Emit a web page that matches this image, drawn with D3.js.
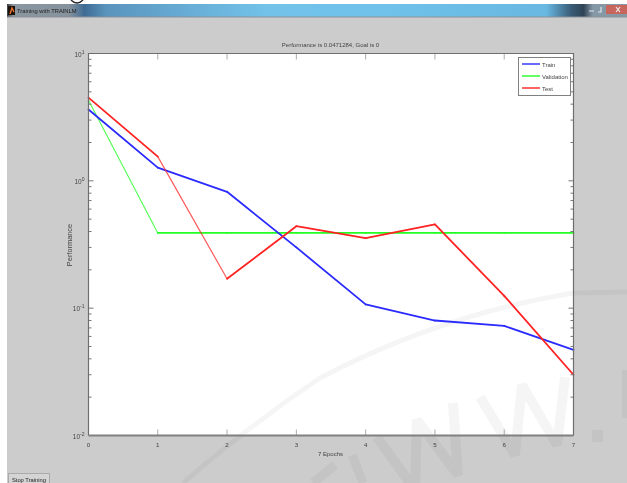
<!DOCTYPE html>
<html><head><meta charset="utf-8">
<script src="https://cdnjs.cloudflare.com/ajax/libs/d3/7.8.5/d3.min.js"></script>
<style>html,body{margin:0;padding:0;background:#fff}svg{display:block;filter:blur(0.5px)}text{font-family:"Liberation Sans",Arial,sans-serif}</style>
</head><body><svg id="c" width="627" height="483"></svg>
<script>
const epochs=[0,1,2,3,4,5,6,7];
const train=[3.63,1.27,0.82,0.30,0.107,0.080,0.0725,0.0471];
const validation=[4.3,0.39,0.39,0.39,0.39,0.39,0.39,0.39];
const test=[4.5,1.55,0.17,0.44,0.355,0.455,0.125,0.03];
const seriesNames=["Train","Validation","Test"];
const seriesColors=["#2a2aff","#22ff22","#ff2222"];
const yDecades=[10,1,0.1,0.01];
const yExponents=["1","0","-1","-2"];
const titleText="Performance is 0.0471284, Goal is 0";
const xLabel="7 Epochs", yLabel="Performance", windowTitle="Training with TRAINLM", buttonText="Stop Training";

const L=88.5,R=573.5,T=53.5,B=435.5;
const svg=d3.select("#c");
const x=d3.scaleLinear().domain([0,7]).range([L,R]);
const y=d3.scaleLog().domain([0.01,10]).range([B,T]);
const defs=svg.append("defs");
const g=defs.append("linearGradient").attr("id","tb");
[[0,"#3a3f44"],[0.01,"#8a96a0"],[0.1,"#86929c"],[0.125,"#3f6c94"],[0.16,"#5a94bd"],[0.3,"#68aed6"],[0.42,"#72c2ea"],[0.6,"#70c2ea"],[0.87,"#68b8e2"],[0.91,"#3a5c76"],[0.93,"#2f4455"],[0.945,"#8598a6"],[1,"#8598a6"]]
 .forEach(s=>g.append("stop").attr("offset",s[0]).attr("stop-color",s[1]));
defs.append("clipPath").attr("id","win").append("rect").attr("x",7).attr("y",17).attr("width",620).attr("height",466);

svg.append("path").attr("d","M71 0Q77 6 83 0").attr("fill","none").attr("stroke","#222").attr("stroke-width",1.4);
svg.append("rect").attr("x",7).attr("y",4).attr("width",620).attr("height",479).attr("fill","#cccccc");
svg.append("rect").attr("x",7).attr("y",4).attr("width",620).attr("height",13).attr("fill","url(#tb)");
svg.append("line").attr("x1",7).attr("x2",627).attr("y1",17).attr("y2",17).attr("stroke","#8a9098");
svg.append("rect").attr("x",8).attr("y",6).attr("width",7).attr("height",9).attr("fill","#1c1208");
svg.append("path").attr("d","M10 14L12 8L14 12").attr("fill","none").attr("stroke","#e8702a").attr("stroke-width",1.4);
svg.append("text").attr("x",17).attr("y",13).attr("font-size",5.8).attr("fill","#222").text(windowTitle);
// window buttons
svg.append("rect").attr("x",606).attr("y",5).attr("width",21).attr("height",9).attr("fill","#c8655c");
svg.append("path").attr("d","M589 11h5M601 7v5h-3").attr("fill","none").attr("stroke","#dfe6ea").attr("stroke-width",1.2);
svg.append("path").attr("d","M616 7l4 5M620 7l-4 5").attr("fill","none").attr("stroke","#eee").attr("stroke-width",1.2);

svg.append("rect").attr("x",L).attr("y",T).attr("width",R-L).attr("height",B-T).attr("fill","#fff");

// watermark
const wm=svg.append("g").attr("clip-path","url(#win)").attr("fill","none").attr("stroke","#000").attr("opacity",0.035).attr("stroke-linejoin","bevel");
wm.append("path").attr("d","M183 483Q250 425 320 378Q440 315 573 293L627 292").attr("stroke-width",5);
wm.append("path").attr("d","M480 397L515 455L522 385L557 445L565 377").attr("stroke-width",10);
wm.append("path").attr("d","M377 437L415 490L417 420L458 475L453 403").attr("stroke-width",10);
wm.append("path").attr("d","M352 455L363 483M313 483L335 465").attr("stroke-width",9);
wm.append("rect").attr("x",592).attr("y",430).attr("width",11).attr("height",12).attr("fill","#000").attr("stroke","none");
wm.append("rect").attr("x",622).attr("y",370).attr("width",5).attr("height",48).attr("fill","#000").attr("stroke","none");

// lines: the two steepest segments read thinner in the picture
[[validation,1],[train,0],[test,2]].forEach(([s,i])=>{
  d3.pairs(s).forEach((p,k)=>{
    const isThin=(i===1&&k===0)||(i===2&&k===1);
    svg.append("line").attr("x1",x(epochs[k])).attr("x2",x(epochs[k+1])).attr("y1",y(p[0])).attr("y2",y(p[1]))
      .attr("stroke",seriesColors[i]).attr("stroke-width",isThin?1.2:1.8).attr("stroke-linecap","round").attr("opacity",isThin?0.75:1);
  });
});

// axes
const ax=svg.append("g").attr("stroke","#777");
ax.selectAll(".xt").data(epochs.slice(1,-1)).join("g").each(function(d){
  d3.select(this).append("line").attr("x1",x(d)).attr("x2",x(d)).attr("y1",B).attr("y2",B-6).attr("stroke","#aaa");
  d3.select(this).append("line").attr("x1",x(d)).attr("x2",x(d)).attr("y1",T).attr("y2",T+6).attr("stroke","#aaa");
});
const minor=[];
[0.01,0.1,1].forEach(dec=>{for(let m=2;m<10;m++)minor.push(dec*m)});
ax.selectAll(".mt").data(minor).join("g").each(function(d){
  d3.select(this).append("line").attr("x1",L).attr("x2",L+3).attr("y1",y(d)).attr("y2",y(d));
  d3.select(this).append("line").attr("x1",R).attr("x2",R-3).attr("y1",y(d)).attr("y2",y(d));
});
yDecades.slice(1,3).forEach(d=>{
  ax.append("line").attr("x1",L).attr("x2",L+5).attr("y1",y(d)).attr("y2",y(d));
  ax.append("line").attr("x1",R).attr("x2",R-5).attr("y1",y(d)).attr("y2",y(d));
});
svg.append("path").attr("d",`M${L} ${B}V${T}H${R}V${B}`).attr("fill","none").attr("stroke","#6e6e6e").attr("stroke-width",1.2);
svg.append("line").attr("x1",L).attr("x2",R).attr("y1",B).attr("y2",B).attr("stroke","#808080").attr("stroke-width",1.8);

// tick labels
const tc="#444";
svg.selectAll(".xl").data(epochs).join("text").attr("x",d=>x(d)).attr("y",B+11).attr("text-anchor","middle").attr("font-size",6.2).attr("fill",tc).text(d=>d);
yDecades.forEach((d,i)=>{
  const t=svg.append("text").attr("x",L-4).attr("y",y(d)+3).attr("text-anchor","end").attr("font-size",6.5).attr("fill",tc);
  t.append("tspan").text("10");
  t.append("tspan").attr("dy",-3).attr("font-size",5).text(yExponents[i]);
});
svg.append("text").attr("x",330.5).attr("y",47).attr("text-anchor","middle").attr("font-size",6).attr("fill",tc).text(titleText);
svg.append("text").attr("x",330.5).attr("y",456).attr("text-anchor","middle").attr("font-size",6).attr("fill",tc).text(xLabel);
svg.append("text").attr("transform",`translate(72,245) rotate(-90)`).attr("text-anchor","middle").attr("font-size",7.4).attr("fill",tc).text(yLabel);

// legend
svg.append("rect").attr("x",518.5).attr("y",57.5).attr("width",52).attr("height",38).attr("fill","#fff").attr("stroke","#808080").attr("stroke-width",1);
seriesNames.forEach((n,i)=>{
  const ly=64+i*12;
  svg.append("line").attr("x1",522).attr("x2",540).attr("y1",ly).attr("y2",ly).attr("stroke",seriesColors[i]).attr("stroke-width",1.4);
  svg.append("text").attr("x",542).attr("y",ly+2.5).attr("font-size",6).attr("fill",tc).text(n);
});

// button
svg.append("rect").attr("x",8.5).attr("y",473.5).attr("width",41).attr("height",10).attr("fill","#d4d4d4").attr("stroke","#aaa");
svg.append("text").attr("x",29).attr("y",481.5).attr("text-anchor","middle").attr("font-size",5.8).attr("fill","#222").text(buttonText);
</script></body></html>
